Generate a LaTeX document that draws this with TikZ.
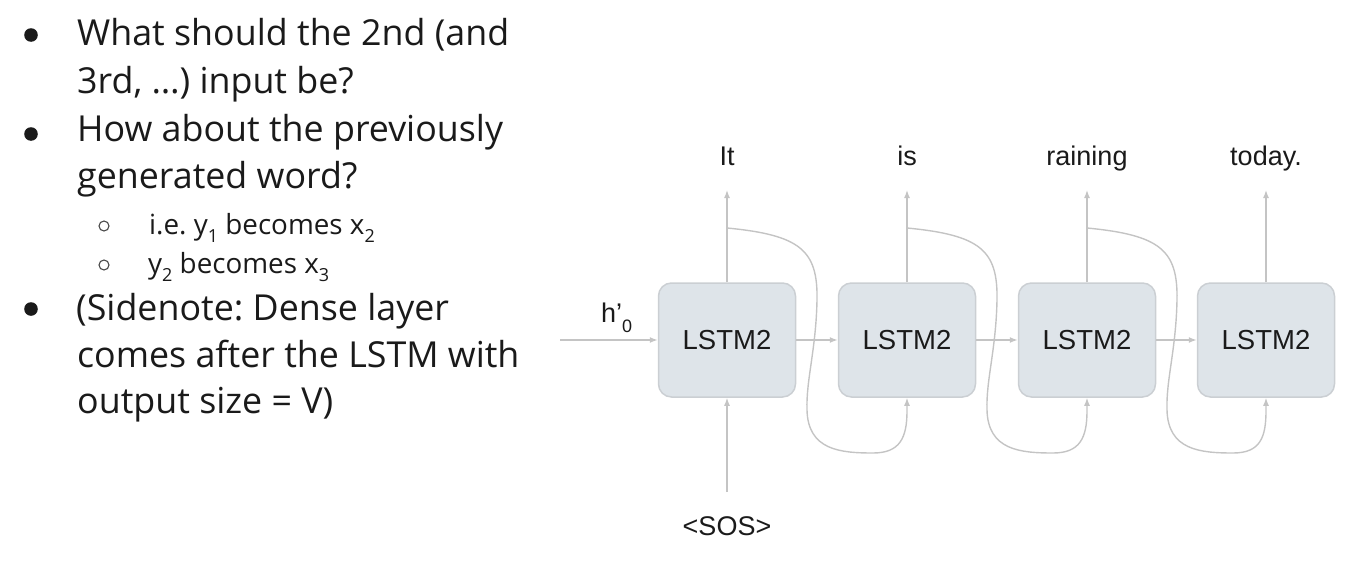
\documentclass[tikz,border=0pt]{standalone}
\usepackage{fontspec}
\setmainfont{Open Sans}
\newfontfamily\diagfont{Liberation Sans}
\usetikzlibrary{arrows.meta,calc}
\definecolor{lineg}{HTML}{C4C4C4}
\definecolor{boxfill}{HTML}{DEE4E9}
\definecolor{boxline}{HTML}{CBCFD3}
\definecolor{txt}{HTML}{1A1A1A}
\newcommand\lowsub[1]{\raisebox{-0.3em}{\fontsize{18}{18}\selectfont #1}}
\frenchspacing
\begin{document}
\begin{tikzpicture}[x=1pt,y=-1pt,
  lstm/.style={draw=boxline,fill=boxfill,line width=1.5pt,rounded corners=13pt,
    minimum width=137pt,minimum height=114pt,inner sep=0pt,
    font=\diagfont\fontsize{27.5}{27.5}\selectfont,text=txt},
  lbl/.style={font=\diagfont\fontsize{27}{27}\selectfont,text=txt,inner sep=0pt,anchor=base},
  arr/.style={draw=lineg,line width=1.4pt,-{Latex[length=8pt,width=6pt]}},
  body/.style={font=\fontsize{35.8}{35.8}\selectfont,text=txt,inner sep=0pt,anchor=base west},
  subbody/.style={font=\fontsize{27.8}{27.8}\selectfont,text=txt,inner sep=0pt,anchor=base west},
  dotb/.style={fill=txt},
  ringb/.style={draw=txt!80,line width=1.1pt}
]
\useasboundingbox (0,0) rectangle (1352,570);
% ---------- left text ----------
\fill[dotb] (31,35) circle (6.8);
\fill[dotb] (31,134) circle (6.8);
\fill[dotb] (31,309) circle (6.8);
\draw[ringb] (104,226) circle (5);
\draw[ringb] (104,265) circle (5);
\node[body] (l1) at (77,45) {What should the 2nd (and};
\node[body] (l2) at (77,93) {3rd, …) input be?};
\node[body] (l3) at (77,141) {How about the previously};
\node[body] (l4) at (77,188) {generated word?};
\node[subbody] (s1) at (149,234) {i.e. y\lowsub{1} becomes x\lowsub{2}};
\node[subbody] (s2) at (148,273) {y\lowsub{2} becomes x\lowsub{3}};
\node[body] (l5) at (76,320) {(Sidenote: Dense layer};
\node[body] (l6) at (77,367) {comes after the LSTM with};
\node[body] (l7) at (77,413) {output size = V)};
% ---------- diagram ----------
\node[lstm] (b1) at (727,340) {LSTM2};
\node[lstm] (b2) at (907,340) {LSTM2};
\node[lstm] (b3) at (1087,340) {LSTM2};
\node[lstm] (b4) at (1266,340) {LSTM2};
\node[lbl] (o1) at (727,165) {It};
\node[lbl] (o2) at (907,165) {is};
\node[lbl] (o3) at (1087,165) {raining};
\node[lbl] (o4) at (1266,165) {today.};
\node[lbl] (sos) at (727,535) {<SOS>};
\node[lbl,anchor=base west] (h0) at (601,322) {h’\raisebox{-10pt}{\fontsize{18}{18}\selectfont 0}};
\coordinate (t1) at (727,190);
\coordinate (t2) at (907,190);
\coordinate (t3) at (1087,190);
\coordinate (t4) at (1266,190);
\coordinate (hin) at (560,340);
\coordinate (sin) at (727,492);
\coordinate (k1) at (727,228);
\coordinate (k2) at (907,228);
\coordinate (k3) at (1087,228);
\draw[arr] (b1.north) -- (t1);
\draw[arr] (b2.north) -- (t2);
\draw[arr] (b3.north) -- (t3);
\draw[arr] (b4.north) -- (t4);
\draw[arr] (hin) -- (b1.west);
\draw[arr] (b1.east) -- (b2.west);
\draw[arr] (b2.east) -- (b3.west);
\draw[arr] (b3.east) -- (b4.west);
\draw[arr] (sin) -- (b1.south);
\foreach \a/\b in {k1/b2,k2/b3,k3/b4}{
  \draw[arr] (\a) .. controls ++(73,7) and ++(1,-50) .. ++(90,72)
     .. controls ++(-1,50) and ++(-1,-30) .. ++(-10,110)
     .. controls ++(1,40) and ++(-33,0) .. ++(66,43)
     .. controls ++(27,0) and ($(\b.south)+(0,40)$) .. ($(\b.south)+(0,13)$) -- (\b.south);
}
\end{tikzpicture}
\end{document}
